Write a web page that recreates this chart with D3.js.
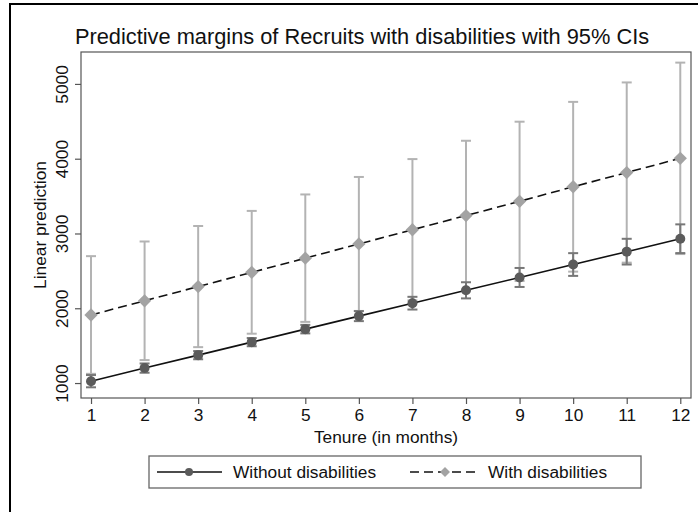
<!DOCTYPE html>
<html>
<head>
<meta charset="utf-8">
<script src="https://cdn.jsdelivr.net/npm/d3@7"></script>
<style>
  html, body { margin: 0; padding: 0; background: #fff; }
  svg { display: block; font-family: "Liberation Sans", Arial, Helvetica, sans-serif; }
</style>
</head>
<body>
<svg id="chart" width="698" height="512"></svg>
<script>
// ---- data ----
const tenure = [1, 2, 3, 4, 5, 6, 7, 8, 9, 10, 11, 12];
const xTicks = [1, 2, 3, 4, 5, 6, 7, 8, 9, 10, 11, 12];
const yTicks = [1000, 2000, 3000, 4000, 5000];

const withoutMargin = [1025, 1200, 1373, 1547, 1721, 1895, 2068, 2240, 2412, 2585, 2757, 2930];
const withoutLower  = [ 943, 1138, 1318, 1492, 1664, 1828, 1983, 2132, 2285, 2433, 2585, 2738];
const withoutUpper  = [1107, 1262, 1428, 1602, 1778, 1962, 2153, 2348, 2539, 2737, 2929, 3122];

const withMargin = [1910, 2100, 2290, 2480, 2670, 2860, 3050, 3240, 3430, 3625, 3815, 4005];
const withLower  = [1123, 1307, 1480, 1660, 1818, 1964, 2105, 2240, 2365, 2490, 2610, 2725];
const withUpper  = [2697, 2893, 3100, 3302, 3522, 3756, 3995, 4240, 4495, 4760, 5020, 5285];

const seriesNames = ["Without disabilities", "With disabilities"];
const titleText = "Predictive margins of Recruits with disabilities with 95% CIs";
const xTitle = "Tenure (in months)";
const yTitle = "Linear prediction";

// ---- layout ----
const svg = d3.select("#chart");
const L = 81, R = 691, T = 52, B = 398;
const x = d3.scaleLinear().domain([0.813, 12.2]).range([L, R]);
const y = d3.scaleLinear().domain([800, 5427]).range([B, T]);

const textCol = "#111";
const fs = 17.3;
const darkMark = "#5b5b5b", darkCI = "#777";
const lightMark = "#a3a3a3", lightCI = "#b3b3b3";

// outer frame (extends beyond the visible area)
svg.append("rect").attr("x", 10).attr("y", 4).attr("width", 800).attr("height", 600)
  .attr("fill", "none").attr("stroke", "#000").attr("stroke-width", 2);

// title
svg.append("text").attr("x", 362).attr("y", 44).attr("text-anchor", "middle")
  .attr("font-size", 21.8).attr("fill", textCol).text(titleText);

// plot box
svg.append("rect").attr("x", L).attr("y", T).attr("width", R - L).attr("height", B - T)
  .attr("fill", "none").attr("stroke", "#555").attr("stroke-width", 1.2);

// axes
const yAxis = d3.axisLeft(y).tickValues(yTicks).tickSize(6).tickPadding(5).tickFormat(d3.format("d"));
const gy = svg.append("g").attr("transform", `translate(${L},0)`).call(yAxis);
gy.select(".domain").remove();
gy.selectAll(".tick line").attr("stroke", "#555").attr("stroke-width", 1.2);
gy.selectAll(".tick text").attr("font-size", fs).attr("fill", textCol)
  .attr("text-anchor", "middle").attr("dy", 0)
  .attr("transform", `translate(-13,0) rotate(-90)`).attr("x", 0).attr("y", 0);

const xAxis = d3.axisBottom(x).tickValues(xTicks).tickSize(6).tickPadding(5).tickFormat(d3.format("d"));
const gx = svg.append("g").attr("transform", `translate(0,${B})`).call(xAxis);
gx.select(".domain").remove();
gx.selectAll(".tick line").attr("stroke", "#555").attr("stroke-width", 1.2);
gx.selectAll(".tick text").attr("font-size", fs).attr("fill", textCol);

// axis titles
svg.append("text").attr("x", (L + R) / 2).attr("y", 443).attr("text-anchor", "middle")
  .attr("font-size", fs).attr("fill", textCol).text(xTitle);
svg.append("text").attr("transform", `translate(46,${(T + B) / 2}) rotate(-90)`)
  .attr("text-anchor", "middle").attr("font-size", fs).attr("fill", textCol).text(yTitle);

// CI caps
function drawCI(lower, upper, color) {
  const g = svg.append("g").attr("stroke", color).attr("stroke-width", 2).attr("fill", "none");
  tenure.forEach((t, i) => {
    const cx = x(t);
    g.append("line").attr("x1", cx).attr("x2", cx).attr("y1", y(lower[i])).attr("y2", y(upper[i]));
    g.append("line").attr("x1", cx - 5).attr("x2", cx + 5).attr("y1", y(lower[i])).attr("y2", y(lower[i]));
    g.append("line").attr("x1", cx - 5).attr("x2", cx + 5).attr("y1", y(upper[i])).attr("y2", y(upper[i]));
  });
}
drawCI(withLower, withUpper, lightCI);
drawCI(withoutLower, withoutUpper, darkCI);

// lines
const line = d3.line().x((d, i) => x(tenure[i])).y(d => y(d));
svg.append("path").datum(withMargin).attr("d", line).attr("fill", "none")
  .attr("stroke", "#111").attr("stroke-width", 1.6).attr("stroke-dasharray", "9,5");
svg.append("path").datum(withoutMargin).attr("d", line).attr("fill", "none")
  .attr("stroke", "#111").attr("stroke-width", 1.6);

// markers
const diamond = d3.symbol().type(d3.symbolSquare).size(88);
svg.append("g").selectAll("path").data(withMargin).join("path")
  .attr("d", diamond)
  .attr("transform", (d, i) => `translate(${x(tenure[i])},${y(d)}) rotate(45)`)
  .attr("fill", lightMark);
svg.append("g").selectAll("circle").data(withoutMargin).join("circle")
  .attr("cx", (d, i) => x(tenure[i])).attr("cy", d => y(d)).attr("r", 5)
  .attr("fill", darkMark);

// legend
const lg = svg.append("g");
lg.append("rect").attr("x", 149).attr("y", 456).attr("width", 492).attr("height", 32)
  .attr("fill", "#fff").attr("stroke", "#666").attr("stroke-width", 1.3);
const ly = 472;
lg.append("line").attr("x1", 157).attr("x2", 222).attr("y1", ly).attr("y2", ly)
  .attr("stroke", "#111").attr("stroke-width", 1.6);
lg.append("circle").attr("cx", 189).attr("cy", ly).attr("r", 4).attr("fill", darkMark);
lg.append("text").attr("x", 233).attr("y", ly + 6).attr("font-size", fs).attr("fill", textCol)
  .text(seriesNames[0]);
lg.append("line").attr("x1", 410).attr("x2", 477).attr("y1", ly).attr("y2", ly)
  .attr("stroke", "#111").attr("stroke-width", 1.6).attr("stroke-dasharray", "9,5");
lg.append("path").attr("d", d3.symbol().type(d3.symbolSquare).size(50)())
  .attr("transform", `translate(445,${ly}) rotate(45)`).attr("fill", lightMark);
lg.append("text").attr("x", 488).attr("y", ly + 6).attr("font-size", fs).attr("fill", textCol)
  .text(seriesNames[1]);
</script>
</body>
</html>
